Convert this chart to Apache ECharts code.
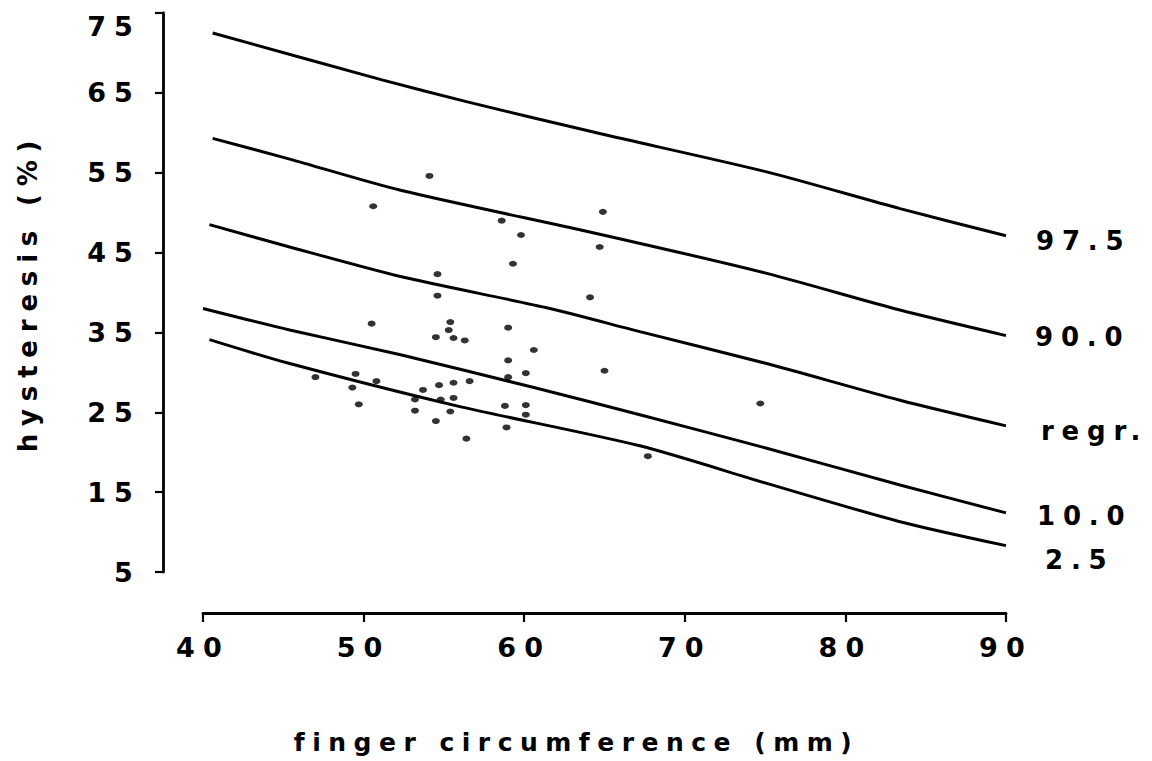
<!DOCTYPE html>
<html>
<head>
<meta charset="utf-8">
<script src="https://cdn.jsdelivr.net/npm/echarts@6/dist/echarts.min.js"></script>
<style>
  html, body { margin: 0; padding: 0; background: #fff; }
  #chart { width: 1152px; height: 761px; }
  #chart text { letter-spacing: 0.3em; }
</style>
</head>
<body>
<div id="chart"></div>
<script>
// ---- data ----
const yTicks = [5, 15, 25, 35, 45, 55, 65, 75];
const xTicks = [40, 50, 60, 70, 80, 90];

const circumference = [54.1, 50.6, 58.6, 64.9, 59.8, 64.7, 59.3, 54.6, 54.6, 64.1,
  50.5, 55.4, 55.3, 54.5, 55.6, 56.3, 59.0, 60.6, 59.0, 65.0,
  60.1, 59.0, 47.0, 49.5, 50.8, 49.3, 56.6, 55.6, 54.7, 53.7,
  53.2, 54.8, 55.6, 49.7, 53.2, 55.4, 58.8, 60.1, 60.1, 54.5,
  58.9, 56.4, 74.7, 67.7];
const hysteresis = [54.6, 50.8, 49.0, 50.1, 47.2, 45.7, 43.6, 42.3, 39.6, 39.4,
  36.1, 36.3, 35.3, 34.4, 34.3, 34.0, 35.6, 32.8, 31.5, 30.2,
  29.9, 29.4, 29.4, 29.8, 28.9, 28.1, 28.9, 28.7, 28.4, 27.8,
  26.6, 26.6, 26.8, 26.0, 25.2, 25.1, 25.8, 25.9, 24.7, 23.9,
  23.1, 21.7, 26.1, 19.5];

const curve975 = [[40.6, 72.5], [51.2, 66.6], [56.4, 63.9], [64.7, 59.9], [75.1, 55.1], [83.4, 50.5], [90, 47.1]];
const curve900 = [[40.6, 59.3], [45.4, 56.7], [52.3, 52.8], [64.7, 47.3], [75.1, 42.4], [83.4, 37.8], [90, 34.6]];
const curveRegr = [[40.4, 48.5], [45.4, 45.7], [52.3, 42.0], [61.6, 38.0], [67.2, 35.1], [75.1, 31.1], [83.4, 26.5], [90, 23.3]];
const curve100 = [[40.0, 38.0], [45.4, 35.3], [52.3, 32.2], [60.6, 28.1], [67.2, 24.7], [75.1, 20.5], [83.4, 15.9], [90, 12.4]];
const curve025 = [[40.4, 34.1], [45.4, 31.1], [55.8, 25.8], [67.2, 20.8], [75.1, 16.1], [83.4, 11.3], [90, 8.3]];

const curveNames = ['97.5', '90.0', 'regr.', '10.0', '2.5'];
const curveData = [curve975, curve900, curveRegr, curve100, curve025];
const labelOffsets = [[30, 5], [29, 1], [35, 5], [31, 3], [39, 14]];

// ---- chart ----
const FONT = 'DejaVu Sans';
const chart = echarts.init(document.getElementById('chart'), null, { renderer: 'svg' });

const lineSeries = curveNames.map((name, i) => ({
  type: 'line',
  name: name,
  data: curveData[i],
  smooth: 0.25,
  showSymbol: false,
  symbol: 'none',
  lineStyle: { color: '#000', width: 3 },
  endLabel: {
    show: true,
    formatter: '{a}',
    distance: 0,
    offset: labelOffsets[i],
    color: '#000',
    fontFamily: FONT,
    fontWeight: 'bold',
    fontSize: 26
  },
  z: 2
}));

const option = {
  animation: false,
  backgroundColor: '#fff',
  grid: { left: 203, right: 146, top: 13, bottom: 189, containLabel: false },
  xAxis: {
    type: 'value',
    min: 40, max: 90, interval: 10,
    offset: 41,
    name: 'finger circumference (mm)',
    nameLocation: 'middle',
    nameGap: 117,
    nameTextStyle: { color: '#000', fontFamily: FONT, fontWeight: 'bold', fontSize: 25, padding: [0, 56, 0, 0] },
    axisLine: { show: true, lineStyle: { color: '#000', width: 2.8 } },
    axisTick: { show: true, inside: false, length: 9, lineStyle: { color: '#000', width: 2.2 } },
    axisLabel: {
      color: '#000', fontFamily: FONT, fontWeight: 'bold', fontSize: 27, margin: 21,
      formatter: v => String(v)
    },
    splitLine: { show: false }
  },
  yAxis: {
    type: 'value',
    min: 5, max: 75, interval: 10,
    offset: 40,
    name: 'hysteresis (%)',
    nameLocation: 'middle',
    nameGap: 122,
    nameTextStyle: { color: '#000', fontFamily: FONT, fontWeight: 'bold', fontSize: 26 },
    axisLine: { show: true, lineStyle: { color: '#000', width: 2.8 } },
    axisTick: { show: true, inside: false, length: 8, lineStyle: { color: '#000', width: 2.2 } },
    axisLabel: {
      color: '#000', fontFamily: FONT, fontWeight: 'bold', fontSize: 27, margin: 22,
      formatter: v => (v === 75 ? '{top|' + v + '}' : String(v)),
      rich: { top: { color: '#000', fontFamily: FONT, fontWeight: 'bold', fontSize: 27, padding: [26, 0, 0, 0] } }
    },
    splitLine: { show: false }
  },
  series: [
    {
      type: 'scatter',
      name: 'subjects',
      data: circumference.map((x, i) => [x, hysteresis[i]]),
      symbol: 'circle',
      symbolSize: [8, 6],
      itemStyle: { color: '#000' },
      z: 3
    }
  ].concat(lineSeries)
};

chart.setOption(option);
</script>
</body>
</html>
